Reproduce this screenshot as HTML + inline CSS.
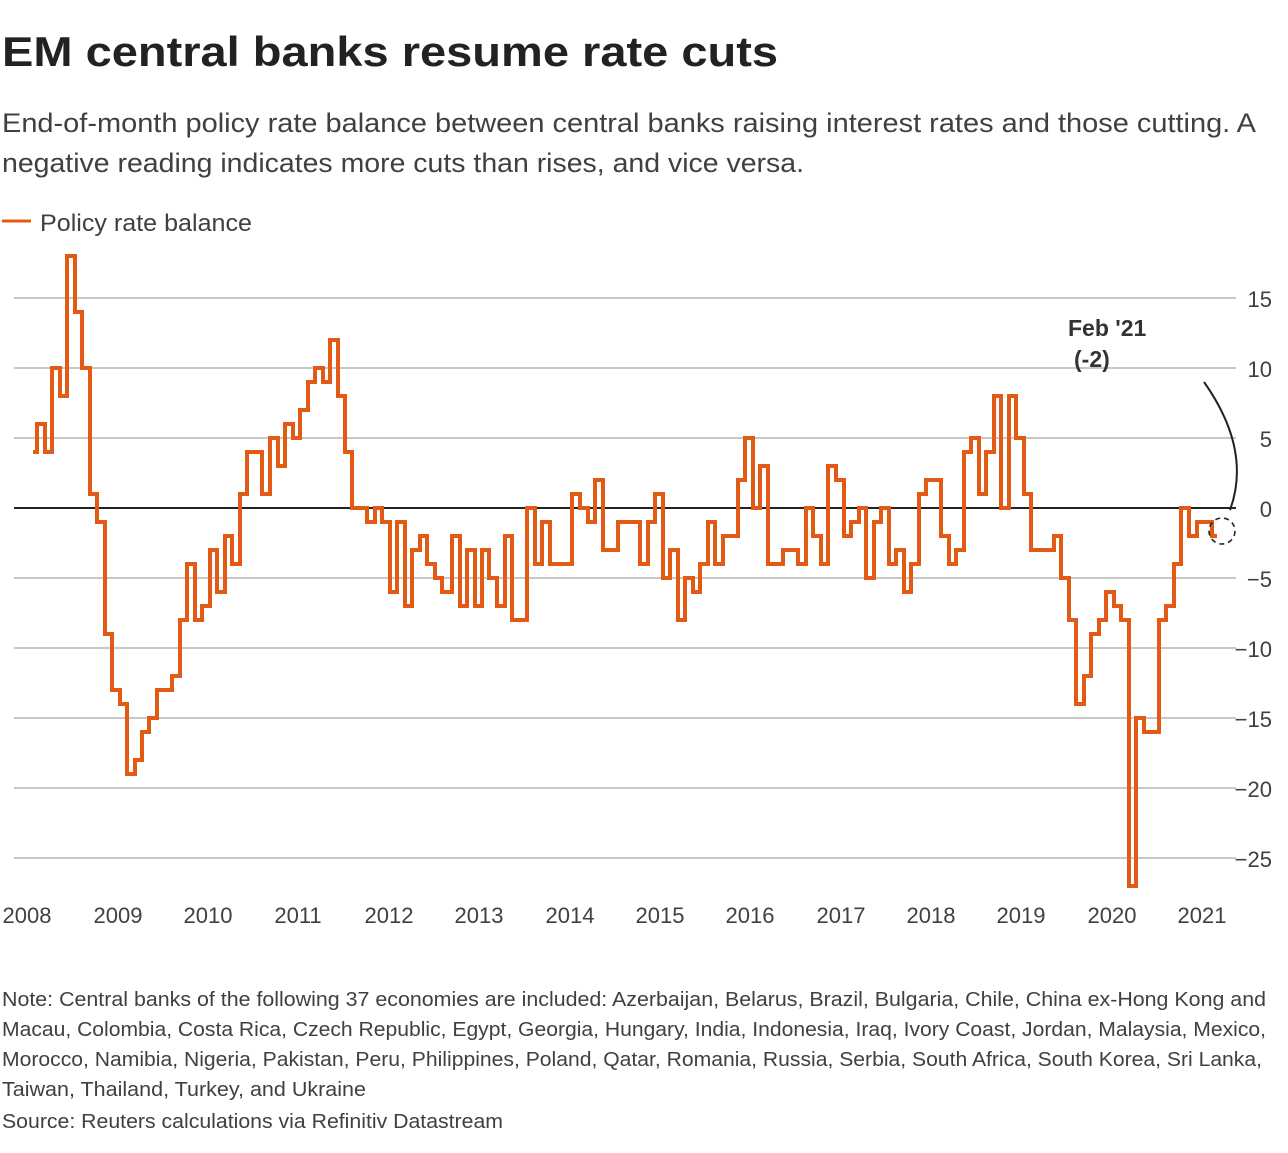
<!DOCTYPE html>
<html><head><meta charset="utf-8"><style>
html,body{margin:0;padding:0;background:#fff;}
body{width:1288px;height:1148px;overflow:hidden;font-family:"Liberation Sans",sans-serif;}
</style></head><body>
<svg width="1288" height="1148" xmlns="http://www.w3.org/2000/svg" font-family="Liberation Sans, sans-serif">
<text x="2" y="66" font-size="42" font-weight="bold" fill="#222" textLength="776" lengthAdjust="spacingAndGlyphs">EM central banks resume rate cuts</text>
<text x="2" y="132" font-size="27" fill="#404040" textLength="1254" lengthAdjust="spacingAndGlyphs">End-of-month policy rate balance between central banks raising interest rates and those cutting. A</text>
<text x="2" y="172" font-size="27" fill="#404040" textLength="802" lengthAdjust="spacingAndGlyphs">negative reading indicates more cuts than rises, and vice versa.</text>
<line x1="2" y1="221" x2="31" y2="221" stroke="#e35a14" stroke-width="3"/>
<text x="40" y="231" font-size="24" fill="#404040" textLength="212" lengthAdjust="spacingAndGlyphs">Policy rate balance</text>
<g stroke="#c8c8c8" stroke-width="2">
<line x1="14" y1="298" x2="1236" y2="298"/><line x1="14" y1="368" x2="1236" y2="368"/><line x1="14" y1="438" x2="1236" y2="438"/>
<line x1="14" y1="578" x2="1236" y2="578"/><line x1="14" y1="648" x2="1236" y2="648"/><line x1="14" y1="718" x2="1236" y2="718"/>
<line x1="14" y1="788" x2="1236" y2="788"/><line x1="14" y1="858" x2="1236" y2="858"/>
</g>
<line x1="14" y1="508" x2="1236" y2="508" stroke="#222" stroke-width="2"/>
<g font-size="22" fill="#404040" text-anchor="end">
<text x="1272" y="307">15</text><text x="1272" y="377">10</text><text x="1272" y="447">5</text><text x="1272" y="517">0</text>
<text x="1272" y="587">−5</text><text x="1272" y="657">−10</text><text x="1272" y="727">−15</text><text x="1272" y="797">−20</text><text x="1272" y="867">−25</text>
</g>
<g font-size="22" fill="#404040" text-anchor="middle">
<text x="27" y="923">2008</text><text x="118" y="923">2009</text><text x="208" y="923">2010</text><text x="298" y="923">2011</text>
<text x="389" y="923">2012</text><text x="479" y="923">2013</text><text x="570" y="923">2014</text><text x="660" y="923">2015</text>
<text x="750" y="923">2016</text><text x="841" y="923">2017</text><text x="931" y="923">2018</text><text x="1021" y="923">2019</text>
<text x="1112" y="923">2020</text><text x="1202" y="923">2021</text>
</g>
<path fill="none" stroke="#e35a14" stroke-width="4" stroke-linejoin="miter" d="M33,452 H37 V424 H45 V452 H52 V368 H60 V396 H67 V256 H75 V312 H82 V368 H90 V494 H97 V522 H105 V634 H112 V690 H120 V704 H127 V774 H135 V760 H142 V732 H149 V718 H157 V690 H172 V676 H180 V620 H187 V564 H195 V620 H202 V606 H210 V550 H217 V592 H225 V536 H232 V564 H240 V494 H247 V452 H262 V494 H270 V438 H278 V466 H285 V424 H293 V438 H300 V410 H308 V382 H315 V368 H323 V382 H330 V340 H338 V396 H345 V452 H352 V508 H367 V522 H375 V508 H382 V522 H390 V592 H397 V522 H405 V606 H412 V550 H420 V536 H427 V564 H435 V578 H442 V592 H452 V536 H460 V606 H467 V550 H475 V606 H482 V550 H489 V578 H497 V606 H505 V536 H512 V620 H527 V508 H535 V564 H542 V522 H550 V564 H572 V494 H580 V508 H588 V522 H595 V480 H603 V550 H618 V522 H640 V564 H648 V522 H655 V494 H663 V578 H670 V550 H678 V620 H685 V578 H693 V592 H700 V564 H708 V522 H715 V564 H723 V536 H738 V480 H745 V438 H753 V508 H760 V466 H768 V564 H783 V550 H798 V564 H806 V508 H813 V536 H821 V564 H828 V466 H836 V480 H844 V536 H851 V522 H859 V508 H866 V578 H874 V522 H881 V508 H889 V564 H896 V550 H904 V592 H911 V564 H919 V494 H926 V480 H941 V536 H949 V564 H956 V550 H964 V452 H971 V438 H979 V494 H986 V452 H994 V396 H1001 V508 H1009 V396 H1016 V438 H1024 V494 H1031 V550 H1054 V536 H1061 V578 H1069 V620 H1076 V704 H1084 V676 H1091 V634 H1099 V620 H1106 V592 H1114 V606 H1121 V620 H1129 V886 H1136 V718 H1144 V732 H1159 V620 H1166 V606 H1174 V564 H1181 V508 H1189 V536 H1197 V522 H1212 V536 H1217"/>
<text x="1068" y="336" font-size="23" font-weight="bold" fill="#333">Feb '21</text>
<text x="1074" y="367" font-size="23" font-weight="bold" fill="#333">(-2)</text>
<path d="M1204,382 Q1252,450 1230,510" fill="none" stroke="#222" stroke-width="2"/>
<circle cx="1222" cy="531" r="13" fill="none" stroke="#222" stroke-width="1.6" stroke-dasharray="5,4"/>
<g font-size="20" fill="#404040">
<text x="2" y="1006" textLength="1264" lengthAdjust="spacingAndGlyphs">Note: Central banks of the following 37 economies are included: Azerbaijan, Belarus, Brazil, Bulgaria, Chile, China ex-Hong Kong and</text>
<text x="2" y="1036" textLength="1264" lengthAdjust="spacingAndGlyphs">Macau, Colombia, Costa Rica, Czech Republic, Egypt, Georgia, Hungary, India, Indonesia, Iraq, Ivory Coast, Jordan, Malaysia, Mexico,</text>
<text x="2" y="1066" textLength="1260" lengthAdjust="spacingAndGlyphs">Morocco, Namibia, Nigeria, Pakistan, Peru, Philippines, Poland, Qatar, Romania, Russia, Serbia, South Africa, South Korea, Sri Lanka,</text>
<text x="2" y="1096" textLength="364" lengthAdjust="spacingAndGlyphs">Taiwan, Thailand, Turkey, and Ukraine</text>
<text x="2" y="1128" textLength="501" lengthAdjust="spacingAndGlyphs">Source: Reuters calculations via Refinitiv Datastream</text>
</g>
</svg>
</body></html>
